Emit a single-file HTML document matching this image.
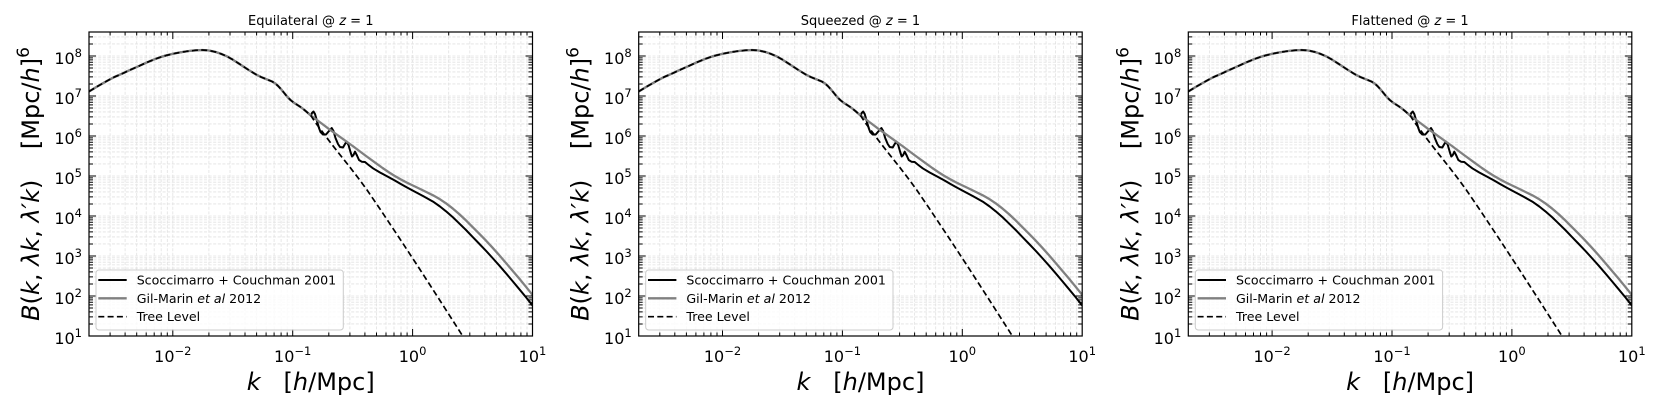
<!DOCTYPE html>
<html><head><meta charset="utf-8">
<style>
html,body{margin:0;padding:0;background:#fff;}
svg{display:block;}
text{font-family:"DejaVu Sans","Liberation Sans",sans-serif;fill:#000;}
.tk{font-size:16px;}
.lab{font-size:24px;}
.ttl{font-size:13px;}
.lg{font-size:12.6px;}
</style></head>
<body>
<svg width="1661" height="415" viewBox="0 0 1661 415" xmlns="http://www.w3.org/2000/svg">
<rect width="1661" height="415" fill="#fff"/>
<defs>
<clipPath id="pc"><rect x="0" y="0" width="443.5" height="304"/></clipPath>
<g id="pbody">
<rect x="0" y="0" width="443.5" height="304" fill="#fff"/>
<g stroke="#e2e2e2" stroke-width="0.8" stroke-dasharray="3,1.6" fill="none">
<path d="M21.1 0V304M36.1 0V304M47.7 0V304M57.2 0V304M65.2 0V304M72.2 0V304M78.3 0V304M83.8 0V304M119.9 0V304M141 0V304M156 0V304M167.6 0V304M177.1 0V304M185.1 0V304M192.1 0V304M198.2 0V304M203.7 0V304M239.8 0V304M260.9 0V304M275.9 0V304M287.5 0V304M297 0V304M305 0V304M312 0V304M318.1 0V304M323.6 0V304M359.7 0V304M380.8 0V304M395.8 0V304M407.4 0V304M416.9 0V304M424.9 0V304M431.9 0V304M438 0V304"/>
<path d="M0 4.92H443.5M0 11.96H443.5M0 24H443.5M0 25.83H443.5M0 27.88H443.5M0 30.2H443.5M0 32.87H443.5M0 36.04H443.5M0 39.92H443.5M0 44.92H443.5M0 51.96H443.5M0 64H443.5M0 65.83H443.5M0 67.88H443.5M0 70.2H443.5M0 72.87H443.5M0 76.04H443.5M0 79.92H443.5M0 84.92H443.5M0 91.96H443.5M0 104H443.5M0 105.83H443.5M0 107.88H443.5M0 110.2H443.5M0 112.87H443.5M0 116.04H443.5M0 119.92H443.5M0 124.92H443.5M0 131.96H443.5M0 144H443.5M0 145.83H443.5M0 147.88H443.5M0 150.2H443.5M0 152.87H443.5M0 156.04H443.5M0 159.92H443.5M0 164.92H443.5M0 171.96H443.5M0 184H443.5M0 185.83H443.5M0 187.88H443.5M0 190.2H443.5M0 192.87H443.5M0 196.04H443.5M0 199.92H443.5M0 204.92H443.5M0 211.96H443.5M0 224H443.5M0 225.83H443.5M0 227.88H443.5M0 230.2H443.5M0 232.87H443.5M0 236.04H443.5M0 239.92H443.5M0 244.92H443.5M0 251.96H443.5M0 264H443.5M0 265.83H443.5M0 267.88H443.5M0 270.2H443.5M0 272.87H443.5M0 276.04H443.5M0 279.92H443.5M0 284.92H443.5M0 291.96H443.5"/>
</g>
<g clip-path="url(#pc)" fill="none" stroke-linejoin="round" stroke-linecap="butt">
<path stroke="#000" stroke-width="2" d="M0 59.5L8 54.6L17.9 49L25 45.2L33.3 41.6L40 38.4L47.8 35L57 30.8L66.7 26.8L75 24L83.8 21.8L92 20.2L100 19L107 18.3L113.3 18L120 18.5L126.7 20L132 21.8L137.8 24.3L144 27.8L150 31.6L155 34.9L160 38.2L166.7 42.3L172 45L178 47.4L183.3 49.6L186.5 51.6L189.5 54.4L192.5 57.7L195.5 61.4L198.5 65L201.5 68L204.5 70.4L207.5 72.4L210.5 74.3L213.5 76.4L217 79.3L221.9 83.6L223 81L224.5 79.5L226 82L228 89L230 96L231.5 100L234 102.5L237 102.5L240 99L242.7 96L244.5 99L246.5 106L249 112L251 115L254 115.5L256 112L257.7 109.7L259.5 113L261.5 120L263 124.5L264.5 123L266 119.7L268 123.5L270 128L272.7 129.7L276 130L279 132.5L284 136.3L291 140.5L298 144.3L305.6 148.4L311.6 151.9L317.6 155.3L323.6 158.5L334 164L344 169.6L351 174.5L357 179.3L364 185.4L370 191.2L377 198L384 205.3L390 211.5L397 218.8L404 226.5L410 233.2L417 241.3L424 249.6L430 256.8L437 265.3L443.5 273.5L450 281.8"/>
<path stroke="#808080" stroke-width="2.3" d="M0 59.5L8 54.6L17.9 49L25 45.2L33.3 41.6L40 38.4L47.8 35L57 30.8L66.7 26.8L75 24L83.8 21.8L92 20.2L100 19L107 18.3L113.3 18L120 18.5L126.7 20L132 21.8L137.8 24.3L144 27.8L150 31.6L155 34.9L160 38.2L166.7 42.3L172 45L178 47.4L183.3 49.6L186.5 51.6L189.5 54.4L192.5 57.7L195.5 61.4L198.5 65L201.5 68L204.5 70.4L207.5 72.4L210.5 74.3L213.5 76.4L217 79.3L221.9 83.6L230 89.5L239.7 96.8L250 104.2L263.7 114L275 122.5L287.6 131.7L293.6 136L299.6 140.1L305.6 143.9L311.6 147.3L317.6 150.5L323.6 153.4L334 158.4L344 163.3L351 167.3L357 171.3L364 176.7L370 181.9L377 188.4L384 195.4L390 201.4L397 208.6L404 216.2L410 222.9L417 231L424 239.2L430 246.3L437 254.8L443.5 262.9L450 271"/>
<path stroke="#000" stroke-width="1.7" stroke-dasharray="6,3.3" d="M0 59.5L8 54.6L17.9 49L25 45.2L33.3 41.6L40 38.4L47.8 35L57 30.8L66.7 26.8L75 24L83.8 21.8L92 20.2L100 19L107 18.3L113.3 18L120 18.5L126.7 20L132 21.8L137.8 24.3L144 27.8L150 31.6L155 34.9L160 38.2L166.7 42.3L172 45L178 47.4L183.3 49.6L186.5 51.6L189.5 54.4L192.5 57.7L195.5 61.4L198.5 65L201.5 68L204.5 70.4L207.5 72.4L210.5 74.3L213.5 76.4L217 79.3L221.9 83.6L226 90L233 99.3L241 110L250 121.5L260 134L270 147L277.7 157.5L290 175.5L310 205.5L330 236L350 267L374 304.5L380 314"/>
</g>
<g stroke="#000" stroke-width="1" fill="none">
<path d="M83.8 0v7M83.8 304v-7M203.7 0v7M203.7 304v-7M323.6 0v7M323.6 304v-7"/>
<path d="M21.1 0v3.5M21.1 304v-3.5M36.1 0v3.5M36.1 304v-3.5M47.7 0v3.5M47.7 304v-3.5M57.2 0v3.5M57.2 304v-3.5M65.2 0v3.5M65.2 304v-3.5M72.2 0v3.5M72.2 304v-3.5M78.3 0v3.5M78.3 304v-3.5M119.9 0v3.5M119.9 304v-3.5M141 0v3.5M141 304v-3.5M156 0v3.5M156 304v-3.5M167.6 0v3.5M167.6 304v-3.5M177.1 0v3.5M177.1 304v-3.5M185.1 0v3.5M185.1 304v-3.5M192.1 0v3.5M192.1 304v-3.5M198.2 0v3.5M198.2 304v-3.5M239.8 0v3.5M239.8 304v-3.5M260.9 0v3.5M260.9 304v-3.5M275.9 0v3.5M275.9 304v-3.5M287.5 0v3.5M287.5 304v-3.5M297 0v3.5M297 304v-3.5M305 0v3.5M305 304v-3.5M312 0v3.5M312 304v-3.5M318.1 0v3.5M318.1 304v-3.5M359.7 0v3.5M359.7 304v-3.5M380.8 0v3.5M380.8 304v-3.5M395.8 0v3.5M395.8 304v-3.5M407.4 0v3.5M407.4 304v-3.5M416.9 0v3.5M416.9 304v-3.5M424.9 0v3.5M424.9 304v-3.5M431.9 0v3.5M431.9 304v-3.5M438 0v3.5M438 304v-3.5"/>
<path d="M0 24h7M443.5 24h-7M0 64h7M443.5 64h-7M0 104h7M443.5 104h-7M0 144h7M443.5 144h-7M0 184h7M443.5 184h-7M0 224h7M443.5 224h-7M0 264h7M443.5 264h-7"/>
<path d="M0 4.92h4M443.5 4.92h-4M0 11.96h4M443.5 11.96h-4M0 25.83h4M443.5 25.83h-4M0 27.88h4M443.5 27.88h-4M0 30.2h4M443.5 30.2h-4M0 32.87h4M443.5 32.87h-4M0 36.04h4M443.5 36.04h-4M0 39.92h4M443.5 39.92h-4M0 44.92h4M443.5 44.92h-4M0 51.96h4M443.5 51.96h-4M0 65.83h4M443.5 65.83h-4M0 67.88h4M443.5 67.88h-4M0 70.2h4M443.5 70.2h-4M0 72.87h4M443.5 72.87h-4M0 76.04h4M443.5 76.04h-4M0 79.92h4M443.5 79.92h-4M0 84.92h4M443.5 84.92h-4M0 91.96h4M443.5 91.96h-4M0 105.83h4M443.5 105.83h-4M0 107.88h4M443.5 107.88h-4M0 110.2h4M443.5 110.2h-4M0 112.87h4M443.5 112.87h-4M0 116.04h4M443.5 116.04h-4M0 119.92h4M443.5 119.92h-4M0 124.92h4M443.5 124.92h-4M0 131.96h4M443.5 131.96h-4M0 145.83h4M443.5 145.83h-4M0 147.88h4M443.5 147.88h-4M0 150.2h4M443.5 150.2h-4M0 152.87h4M443.5 152.87h-4M0 156.04h4M443.5 156.04h-4M0 159.92h4M443.5 159.92h-4M0 164.92h4M443.5 164.92h-4M0 171.96h4M443.5 171.96h-4M0 185.83h4M443.5 185.83h-4M0 187.88h4M443.5 187.88h-4M0 190.2h4M443.5 190.2h-4M0 192.87h4M443.5 192.87h-4M0 196.04h4M443.5 196.04h-4M0 199.92h4M443.5 199.92h-4M0 204.92h4M443.5 204.92h-4M0 211.96h4M443.5 211.96h-4M0 225.83h4M443.5 225.83h-4M0 227.88h4M443.5 227.88h-4M0 230.2h4M443.5 230.2h-4M0 232.87h4M443.5 232.87h-4M0 236.04h4M443.5 236.04h-4M0 239.92h4M443.5 239.92h-4M0 244.92h4M443.5 244.92h-4M0 251.96h4M443.5 251.96h-4M0 265.83h4M443.5 265.83h-4M0 267.88h4M443.5 267.88h-4M0 270.2h4M443.5 270.2h-4M0 272.87h4M443.5 272.87h-4M0 276.04h4M443.5 276.04h-4M0 279.92h4M443.5 279.92h-4M0 284.92h4M443.5 284.92h-4M0 291.96h4M443.5 291.96h-4"/>
</g>
<rect x="7" y="238" width="247.3" height="60" rx="3" ry="3" fill="#fff" fill-opacity="0.8" stroke="#cccccc" stroke-width="1"/>
<path d="M9.3 248H37.7" stroke="#000" stroke-width="2" fill="none"/>
<path d="M9.3 266.3H37.7" stroke="#808080" stroke-width="2.3" fill="none"/>
<path d="M9.3 284.7H37.7" stroke="#000" stroke-width="1.7" stroke-dasharray="6,3.3" fill="none"/>
<rect x="0" y="0" width="443.5" height="304" fill="none" stroke="#000" stroke-width="1.2"/>
</g>
</defs>

<!-- Panel 1 -->
<g transform="translate(89,32)">
<use href="#pbody"/>
<text class="ttl" x="221.75" y="-7" text-anchor="middle">Equilateral @ <tspan font-style="italic">z</tspan> = 1</text>
<text class="lg" x="47.7" y="252.5">Scoccimarro + Couchman 2001</text>
<text class="lg" x="47.7" y="270.8">Gil-Marin <tspan font-style="italic">et al</tspan> 2012</text>
<text class="lg" x="47.7" y="289.2">Tree Level</text>
<text class="tk" x="-7" y="32" text-anchor="end">10<tspan dy="-7" font-size="11.5">8</tspan></text>
<text class="tk" x="-7" y="72" text-anchor="end">10<tspan dy="-7" font-size="11.5">7</tspan></text>
<text class="tk" x="-7" y="112" text-anchor="end">10<tspan dy="-7" font-size="11.5">6</tspan></text>
<text class="tk" x="-7" y="152" text-anchor="end">10<tspan dy="-7" font-size="11.5">5</tspan></text>
<text class="tk" x="-7" y="192" text-anchor="end">10<tspan dy="-7" font-size="11.5">4</tspan></text>
<text class="tk" x="-7" y="232" text-anchor="end">10<tspan dy="-7" font-size="11.5">3</tspan></text>
<text class="tk" x="-7" y="272" text-anchor="end">10<tspan dy="-7" font-size="11.5">2</tspan></text>
<text class="tk" x="-7" y="312" text-anchor="end">10<tspan dy="-7" font-size="11.5">1</tspan></text>
<text class="tk" x="83.8" y="330" text-anchor="middle">10<tspan dy="-7" font-size="11.5">−2</tspan></text>
<text class="tk" x="203.7" y="330" text-anchor="middle">10<tspan dy="-7" font-size="11.5">−1</tspan></text>
<text class="tk" x="323.6" y="330" text-anchor="middle">10<tspan dy="-7" font-size="11.5">0</tspan></text>
<text class="tk" x="443.5" y="330" text-anchor="middle">10<tspan dy="-7" font-size="11.5">1</tspan></text>
<text class="lab" transform="translate(-50,152) rotate(-90)" text-anchor="middle"><tspan font-style="italic">B</tspan>(<tspan font-style="italic">k</tspan>, <tspan font-style="italic">λk</tspan>, <tspan font-style="italic">λ′k</tspan>)&#160;&#160;&#160;&#160;[Mpc/<tspan font-style="italic">h</tspan>]<tspan dy="-10" font-size="17">6</tspan></text>
<text class="lab" x="221.75" y="358" text-anchor="middle"><tspan font-style="italic">k</tspan>&#160;&#160;&#160;[<tspan font-style="italic">h</tspan>/Mpc]</text>
</g>

<!-- Panel 2 -->
<g transform="translate(638.7,32)">
<use href="#pbody"/>
<text class="ttl" x="221.75" y="-7" text-anchor="middle">Squeezed @ <tspan font-style="italic">z</tspan> = 1</text>
<text class="lg" x="47.7" y="252.5">Scoccimarro + Couchman 2001</text>
<text class="lg" x="47.7" y="270.8">Gil-Marin <tspan font-style="italic">et al</tspan> 2012</text>
<text class="lg" x="47.7" y="289.2">Tree Level</text>
<text class="tk" x="-7" y="32" text-anchor="end">10<tspan dy="-7" font-size="11.5">8</tspan></text>
<text class="tk" x="-7" y="72" text-anchor="end">10<tspan dy="-7" font-size="11.5">7</tspan></text>
<text class="tk" x="-7" y="112" text-anchor="end">10<tspan dy="-7" font-size="11.5">6</tspan></text>
<text class="tk" x="-7" y="152" text-anchor="end">10<tspan dy="-7" font-size="11.5">5</tspan></text>
<text class="tk" x="-7" y="192" text-anchor="end">10<tspan dy="-7" font-size="11.5">4</tspan></text>
<text class="tk" x="-7" y="232" text-anchor="end">10<tspan dy="-7" font-size="11.5">3</tspan></text>
<text class="tk" x="-7" y="272" text-anchor="end">10<tspan dy="-7" font-size="11.5">2</tspan></text>
<text class="tk" x="-7" y="312" text-anchor="end">10<tspan dy="-7" font-size="11.5">1</tspan></text>
<text class="tk" x="83.8" y="330" text-anchor="middle">10<tspan dy="-7" font-size="11.5">−2</tspan></text>
<text class="tk" x="203.7" y="330" text-anchor="middle">10<tspan dy="-7" font-size="11.5">−1</tspan></text>
<text class="tk" x="323.6" y="330" text-anchor="middle">10<tspan dy="-7" font-size="11.5">0</tspan></text>
<text class="tk" x="443.5" y="330" text-anchor="middle">10<tspan dy="-7" font-size="11.5">1</tspan></text>
<text class="lab" transform="translate(-50,152) rotate(-90)" text-anchor="middle"><tspan font-style="italic">B</tspan>(<tspan font-style="italic">k</tspan>, <tspan font-style="italic">λk</tspan>, <tspan font-style="italic">λ′k</tspan>)&#160;&#160;&#160;&#160;[Mpc/<tspan font-style="italic">h</tspan>]<tspan dy="-10" font-size="17">6</tspan></text>
<text class="lab" x="221.75" y="358" text-anchor="middle"><tspan font-style="italic">k</tspan>&#160;&#160;&#160;[<tspan font-style="italic">h</tspan>/Mpc]</text>
</g>

<!-- Panel 3 -->
<g transform="translate(1188.3,32)">
<use href="#pbody"/>
<text class="ttl" x="221.75" y="-7" text-anchor="middle">Flattened @ <tspan font-style="italic">z</tspan> = 1</text>
<text class="lg" x="47.7" y="252.5">Scoccimarro + Couchman 2001</text>
<text class="lg" x="47.7" y="270.8">Gil-Marin <tspan font-style="italic">et al</tspan> 2012</text>
<text class="lg" x="47.7" y="289.2">Tree Level</text>
<text class="tk" x="-7" y="32" text-anchor="end">10<tspan dy="-7" font-size="11.5">8</tspan></text>
<text class="tk" x="-7" y="72" text-anchor="end">10<tspan dy="-7" font-size="11.5">7</tspan></text>
<text class="tk" x="-7" y="112" text-anchor="end">10<tspan dy="-7" font-size="11.5">6</tspan></text>
<text class="tk" x="-7" y="152" text-anchor="end">10<tspan dy="-7" font-size="11.5">5</tspan></text>
<text class="tk" x="-7" y="192" text-anchor="end">10<tspan dy="-7" font-size="11.5">4</tspan></text>
<text class="tk" x="-7" y="232" text-anchor="end">10<tspan dy="-7" font-size="11.5">3</tspan></text>
<text class="tk" x="-7" y="272" text-anchor="end">10<tspan dy="-7" font-size="11.5">2</tspan></text>
<text class="tk" x="-7" y="312" text-anchor="end">10<tspan dy="-7" font-size="11.5">1</tspan></text>
<text class="tk" x="83.8" y="330" text-anchor="middle">10<tspan dy="-7" font-size="11.5">−2</tspan></text>
<text class="tk" x="203.7" y="330" text-anchor="middle">10<tspan dy="-7" font-size="11.5">−1</tspan></text>
<text class="tk" x="323.6" y="330" text-anchor="middle">10<tspan dy="-7" font-size="11.5">0</tspan></text>
<text class="tk" x="443.5" y="330" text-anchor="middle">10<tspan dy="-7" font-size="11.5">1</tspan></text>
<text class="lab" transform="translate(-50,152) rotate(-90)" text-anchor="middle"><tspan font-style="italic">B</tspan>(<tspan font-style="italic">k</tspan>, <tspan font-style="italic">λk</tspan>, <tspan font-style="italic">λ′k</tspan>)&#160;&#160;&#160;&#160;[Mpc/<tspan font-style="italic">h</tspan>]<tspan dy="-10" font-size="17">6</tspan></text>
<text class="lab" x="221.75" y="358" text-anchor="middle"><tspan font-style="italic">k</tspan>&#160;&#160;&#160;[<tspan font-style="italic">h</tspan>/Mpc]</text>
</g>
</svg>
</body></html>
